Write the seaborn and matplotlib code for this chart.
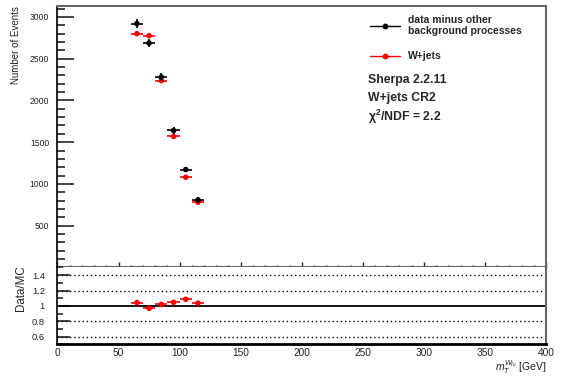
import numpy as np
import pandas as pd
import matplotlib
matplotlib.use("Agg")
import matplotlib.pyplot as plt
import seaborn as sns
from matplotlib.lines import Line2D
from matplotlib.ticker import MultipleLocator, FixedLocator

# ---- data ----
bin_centers = [65, 75, 85, 95, 105, 115]
bin_halfwidth = [5, 5, 5, 5, 5, 5]
data_minus_bkg = [2921, 2688, 2280, 1640, 1172, 808]
data_err = [50, 48, 45, 40, 35, 30]
wjets = [2800, 2776, 2237, 1568, 1080, 780]
ratio = [1.043, 0.968, 1.019, 1.046, 1.085, 1.036]
ratio_err = [0.01, 0.01, 0.01, 0.01, 0.01, 0.01]
ratio_ticks = [0.6, 0.8, 1.0, 1.2, 1.4]
ratio_ticklabels = ["0.6", "0.8", "1", "1.2", "1.4"]
x_ticks = [0, 50, 100, 150, 200, 250, 300, 350, 400]
y_ticks = [500, 1000, 1500, 2000, 2500, 3000]

sns.set_style("white")
plt.rcParams['font.family'] = ['Liberation Sans', 'DejaVu Sans']
plt.rcParams['mathtext.fontset'] = 'custom'
plt.rcParams['mathtext.rm'] = 'Liberation Sans'
plt.rcParams['mathtext.it'] = 'Liberation Sans:italic'
plt.rcParams['mathtext.bf'] = 'Liberation Sans:bold'

df = pd.DataFrame({"x": bin_centers, "data": data_minus_bkg, "mc": wjets, "ratio": ratio})

fig = plt.figure(figsize=(5.67, 3.76), dpi=100)
ax1 = fig.add_axes([0.1014, 0.2907, 0.8616, 0.6941])
ax2 = fig.add_axes([0.1014, 0.0843, 0.8616, 0.2064])

# ---- top panel ----
ax1.errorbar(df["x"], df["mc"], xerr=bin_halfwidth, fmt='none', ecolor='red', elinewidth=1.2, zorder=2)
sns.scatterplot(data=df, x="x", y="mc", color='red', s=16, edgecolor='none', ax=ax1, zorder=3, legend=False)
ax1.errorbar(df["x"], df["data"], xerr=bin_halfwidth, yerr=data_err, fmt='none', ecolor='black', elinewidth=1.2, zorder=4)
sns.scatterplot(data=df, x="x", y="data", color='black', s=16, edgecolor='none', ax=ax1, zorder=5, legend=False)

ax1.set_xlim(0, 400)
ax1.set_ylim(8, 3135)
ax1.set_xlabel("")
ax1.set_ylabel("Number of Events", fontsize=7, loc='top', color='#222')
ax1.yaxis.set_label_coords(-0.074, 1.0)
ax1.xaxis.set_major_locator(FixedLocator(x_ticks))
ax1.xaxis.set_minor_locator(MultipleLocator(10))
ax1.yaxis.set_major_locator(FixedLocator(y_ticks))
ax1.yaxis.set_minor_locator(MultipleLocator(100))
ax1.tick_params(axis='x', which='both', direction='in', labelbottom=False, bottom=True, top=False)
ax1.tick_params(axis='x', which='major', length=3.6, width=1)
ax1.tick_params(axis='x', which='minor', length=1.8, width=1)
ax1.tick_params(axis='y', which='both', direction='in', left=True, right=False, labelsize=6.2,
                labelcolor='#222', pad=6)
ax1.tick_params(axis='y', which='major', length=12, width=1.2)
ax1.tick_params(axis='y', which='minor', length=6, width=1.2)
for s in ['top', 'right']:
    ax1.spines[s].set_color('#666')
    ax1.spines[s].set_linewidth(1.5)
ax1.spines['left'].set_color('black')
ax1.spines['left'].set_linewidth(1.2)
ax1.spines['bottom'].set_color('#666')
ax1.spines['bottom'].set_linewidth(1.5)

handles = [
    Line2D([], [], color='black', marker='o', markersize=3.2, lw=1),
    Line2D([], [], color='red', marker='o', markersize=3.2, lw=1),
]
leg = ax1.legend(handles, ["data minus other\nbackground processes", "W+jets"],
                 loc='upper left', bbox_to_anchor=(0.64, 0.966), frameon=False,
                 prop={'size': 7.5, 'weight': 'bold'}, handlelength=2.9, handletextpad=0.7,
                 labelspacing=1.45, borderpad=0, borderaxespad=0)

ax1.text(0.636, 0.715, "Sherpa 2.2.11", transform=ax1.transAxes, fontsize=8.8, fontweight='bold', va='center', ha='left')
ax1.text(0.636, 0.647, "W+jets CR2", transform=ax1.transAxes, fontsize=8.8, fontweight='bold', va='center', ha='left')
ax1.text(0.636, 0.575, "χ$^{\\mathbf{2}}$/NDF = 2.2", transform=ax1.transAxes, fontsize=8.8, fontweight='bold', va='center', ha='left')

# ---- ratio panel ----
for yv in [0.6, 0.8, 1.2, 1.4]:
    ax2.axhline(yv, color='black', lw=1, ls=(0, (1, 2)), zorder=1)
ax2.axhline(1.0, color='black', lw=1.3, zorder=1)
ax2.errorbar(df["x"], df["ratio"], xerr=bin_halfwidth, yerr=ratio_err, fmt='none', ecolor='red', elinewidth=1.2, zorder=2)
sns.scatterplot(data=df, x="x", y="ratio", color='red', s=16, edgecolor='none', ax=ax2, zorder=3, legend=False)

ax2.set_xlim(0, 400)
ax2.set_ylim(0.5, 1.51)
ax2.xaxis.set_major_locator(FixedLocator(x_ticks))
ax2.set_xticklabels([str(t) for t in x_ticks])
ax2.yaxis.set_major_locator(FixedLocator(ratio_ticks))
ax2.set_yticklabels(ratio_ticklabels)
ax2.yaxis.set_minor_locator(MultipleLocator(0.1))
ax2.tick_params(axis='x', which='both', length=0, labelsize=7.3, labelcolor='#222', pad=3)
ax2.tick_params(axis='y', which='both', direction='in', left=True, labelsize=6.7, labelcolor='#222', pad=9)
ax2.tick_params(axis='y', which='major', length=9.6, width=1.2)
ax2.tick_params(axis='y', which='minor', length=4.5, width=1.2)
ax2.set_ylabel("Data/MC", fontsize=8.3, color='#222')
ax2.yaxis.set_label_coords(-0.062, 0.72)
ax2.set_xlabel(r"$m_{T}^{W_{\ell\nu}}$ [GeV]", fontsize=7.5, color='#222', loc='right')
ax2.xaxis.set_label_coords(1.0, -0.185)
ax2.spines['top'].set_visible(False)
ax2.spines['right'].set_color('#666')
ax2.spines['right'].set_linewidth(1.5)
ax2.spines['left'].set_color('black')
ax2.spines['left'].set_linewidth(1.2)
ax2.spines['bottom'].set_color('black')
ax2.spines['bottom'].set_linewidth(2)

fig.savefig("out.png", dpi=100)
